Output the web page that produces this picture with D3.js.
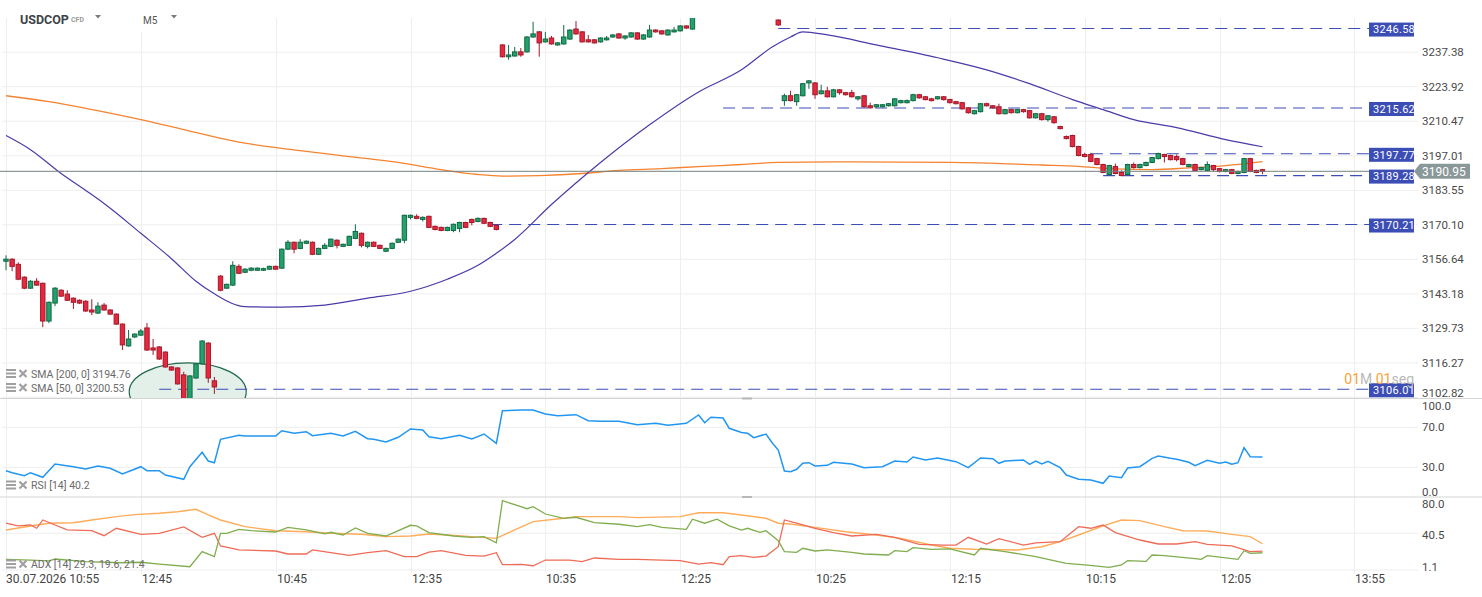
<!DOCTYPE html>
<html>
<head>
<meta charset="utf-8">
<script src="https://cdn.jsdelivr.net/npm/d3@7"></script>
<style>
  html, body { margin: 0; padding: 0; background: #fff; }
  svg { display: block; font-family: Roboto, "Noto Sans", sans-serif; }
</style>
</head>
<body>
<div id="main"></div>
<script>
// ---- data (M5 candles, index 0..205) ----
var opens = [
  3155.9,3156.7,3154.7,3149.7,3145.4,3148.1,3147.3,3132.6,3139.6,3144.6,
  3143.1,3141.5,3140.7,3140.3,3136.9,3135.7,3138.8,3136.9,3135.3,3131.4,
  3122.9,3126.4,3127.1,3129.9,3122.1,3122.5,3120.5,3114.7,3114.3,3111.6,
  3101.6,3110.4,3115.9,3124.0,3109.3,3150.1,3145.4,3146.6,3153.9,3151.6,
  3152.4,3152.4,3152.4,3152.8,3153.9,3153.2,3160.6,3163.3,3160.9,3162.9,
  3163.3,3158.6,3160.9,3161.7,3164.1,3161.7,3162.1,3164.8,3166.8,3161.7,
  3163.3,3162.1,3159.8,3160.9,3163.3,3164.1,3173.0,3173.4,3172.2,3173.4,
  3169.5,3169.1,3167.9,3167.9,3168.7,3171.0,3172.2,3171.4,3172.6,3171.0,
  3169.9,3240.2,3235.6,3235.9,3237.5,3237.5,3243.3,3245.3,3241.4,3242.9,
  3240.2,3240.6,3242.5,3246.4,3245.3,3242.2,3242.2,3241.4,3242.2,3243.3,
  3244.5,3242.9,3243.3,3244.9,3242.5,3243.3,3246.0,3245.7,3244.1,3245.3,
  3245.7,3247.6,3246.4,null,null,null,null,null,null,null,
  null,null,null,null,null,null,3249.9,3218.5,3220.4,3218.1,
  3220.4,3225.4,3225.4,3221.2,3222.3,3220.0,3222.7,3221.6,3221.6,3219.2,
  3220.4,3216.5,3216.1,3216.1,3216.5,3216.5,3217.7,3217.7,3218.5,3220.8,
  3220.0,3219.2,3219.2,3220.0,3218.9,3218.1,3217.7,3215.7,3213.4,3214.2,
  3217.3,3216.5,3216.1,3213.4,3215.0,3213.8,3215.0,3214.6,3211.8,3213.4,
  3211.1,3212.2,3208.4,3204.5,3204.9,3200.6,3197.5,3197.5,3195.9,3193.6,
  3189.7,3192.8,3190.5,3189.7,3193.6,3192.4,3193.2,3194.4,3195.9,3197.5,
  3197.1,3196.7,3195.9,3192.8,3193.6,3191.6,3191.3,3193.2,3192.0,3190.9,
  3191.6,3190.1,3190.5,3195.9,3191.3,3191.6
];
var highs = [
  3158.2,3157.0,3155.5,3150.0,3148.5,3149.3,3147.6,3140.2,3145.8,3145.0,
  3144.6,3141.8,3141.0,3140.7,3141.1,3139.9,3139.6,3137.2,3135.6,3131.7,
  3129.1,3127.8,3129.5,3131.8,3125.6,3122.8,3120.8,3115.0,3114.6,3112.8,
  3111.5,3116.2,3125.2,3124.3,3110.8,3150.5,3147.2,3155.9,3154.7,3153.2,
  3153.6,3153.5,3153.4,3154.2,3154.2,3160.9,3164.1,3163.6,3164.5,3164.0,
  3163.6,3161.2,3162.9,3164.8,3164.4,3162.8,3165.9,3170.3,3167.1,3163.6,
  3163.6,3162.4,3161.2,3163.2,3164.8,3174.1,3174.1,3174.2,3173.4,3173.7,
  3169.8,3169.4,3169.4,3170.6,3171.3,3171.3,3172.5,3173.0,3172.9,3171.3,
  3170.2,3240.5,3240.2,3239.4,3239.0,3243.6,3249.2,3245.6,3245.3,3243.7,
  3241.3,3248.0,3246.3,3249.5,3245.6,3244.1,3242.5,3243.2,3243.7,3244.4,
  3244.8,3244.0,3245.2,3245.2,3244.4,3248.0,3246.3,3246.0,3246.3,3247.2,
  3247.9,3247.9,3252.0,null,null,null,null,null,null,null,
  null,null,null,null,null,null,3250.2,3221.2,3222.3,3221.1,
  3225.4,3226.5,3225.7,3224.7,3223.9,3223.1,3223.0,3221.9,3222.7,3220.3,
  3220.7,3217.7,3217.2,3217.2,3217.6,3219.5,3218.8,3218.9,3221.2,3221.1,
  3220.3,3219.6,3220.3,3220.3,3219.2,3218.4,3218.0,3216.0,3214.9,3217.6,
  3217.7,3216.8,3217.3,3215.3,3215.3,3215.3,3215.3,3214.9,3213.7,3213.7,
  3212.9,3212.5,3208.7,3204.9,3205.2,3200.9,3198.2,3198.2,3196.2,3193.9,
  3193.5,3194.0,3191.3,3193.9,3194.4,3193.9,3194.7,3196.6,3198.2,3197.8,
  3197.4,3197.5,3196.2,3193.9,3193.9,3192.7,3194.8,3193.5,3192.3,3191.9,
  3191.9,3191.2,3196.2,3196.2,3191.6,3191.9
];
var lows = [
  3152.4,3152.0,3148.5,3145.0,3145.2,3146.3,3130.2,3131.8,3138.4,3142.0,
  3140.4,3137.3,3139.2,3136.2,3134.9,3135.3,3136.6,3135.0,3131.1,3121.3,
  3122.6,3126.0,3126.8,3121.0,3119.4,3117.4,3114.4,3113.2,3107.8,3100.8,
  3101.0,3110.1,3115.6,3108.5,3104.2,3144.2,3145.1,3146.3,3150.9,3151.3,
  3152.0,3152.1,3152.1,3152.6,3152.6,3152.9,3160.3,3159.0,3160.6,3162.6,
  3158.3,3158.3,3160.6,3161.4,3160.9,3161.4,3161.8,3164.5,3161.3,3160.9,
  3161.4,3160.6,3159.5,3160.6,3163.0,3162.9,3172.2,3172.3,3171.4,3168.8,
  3167.9,3167.6,3167.6,3167.2,3167.2,3168.8,3169.9,3171.1,3170.4,3169.2,
  3167.9,3235.3,3234.4,3235.6,3235.6,3237.2,3243.0,3235.6,3241.1,3240.3,
  3239.9,3240.3,3242.2,3244.2,3241.1,3241.1,3240.7,3241.1,3241.9,3243.0,
  3242.6,3242.2,3243.0,3242.2,3242.2,3243.0,3245.0,3244.2,3243.8,3245.0,
  3245.4,3246.4,3246.1,null,null,null,null,null,null,null,
  null,null,null,null,null,null,3247.6,3216.5,3218.2,3216.5,
  3220.1,3223.1,3219.2,3220.9,3219.7,3219.7,3220.8,3220.5,3219.7,3218.5,
  3215.8,3215.4,3215.7,3215.8,3216.2,3216.2,3217.4,3217.4,3218.2,3219.2,
  3218.6,3218.2,3218.9,3218.5,3217.4,3217.0,3215.0,3213.4,3213.1,3213.9,
  3216.2,3215.4,3213.1,3213.1,3213.5,3213.5,3213.8,3211.5,3211.5,3210.7,
  3210.3,3209.5,3207.3,3203.4,3200.3,3196.8,3196.4,3194.5,3193.3,3190.2,
  3189.4,3189.8,3189.0,3189.4,3192.0,3192.1,3192.9,3194.1,3195.6,3194.4,
  3195.2,3194.8,3193.3,3192.5,3191.0,3191.3,3191.0,3190.9,3190.5,3190.5,
  3189.8,3189.8,3190.2,3190.6,3190.2,3189.8
];
var closes = [
  3156.7,3153.9,3148.9,3145.4,3148.1,3146.6,3132.6,3139.9,3145.4,3142.3,
  3140.7,3139.9,3139.6,3136.5,3136.1,3138.4,3136.9,3135.3,3131.4,3123.3,
  3125.6,3127.5,3128.7,3121.3,3121.3,3117.8,3114.7,3113.5,3108.1,3101.8,
  3111.2,3115.9,3124.8,3110.4,3106.9,3144.6,3146.9,3154.3,3151.2,3152.8,
  3153.2,3153.2,3153.0,3153.9,3152.8,3160.6,3163.3,3160.6,3163.3,3163.7,
  3158.6,3160.9,3162.1,3164.5,3162.1,3162.5,3165.6,3167.5,3162.1,3163.3,
  3161.7,3160.9,3160.9,3162.9,3164.5,3173.8,3173.8,3172.6,3173.0,3169.1,
  3168.3,3167.9,3169.1,3170.3,3171.0,3169.1,3171.0,3172.6,3170.7,3169.5,
  3168.3,3235.6,3236.3,3237.5,3236.3,3243.3,3244.5,3241.0,3242.5,3240.6,
  3241.0,3243.3,3246.0,3244.5,3241.4,3241.4,3241.0,3242.9,3242.9,3244.1,
  3242.9,3243.7,3244.9,3242.5,3244.1,3246.0,3245.3,3244.5,3246.0,3246.0,
  3247.6,3246.8,3251.5,null,null,null,null,null,null,null,
  null,null,null,null,null,null,3248.0,3220.4,3218.5,3220.8,
  3225.1,3226.2,3220.8,3222.3,3220.0,3222.7,3221.6,3220.8,3220.0,3220.0,
  3216.1,3215.7,3216.9,3216.9,3217.3,3219.2,3218.5,3218.5,3220.8,3219.6,
  3218.9,3218.5,3220.0,3218.9,3217.7,3217.3,3215.3,3213.8,3214.6,3217.3,
  3216.5,3215.7,3213.4,3215.0,3213.8,3215.0,3214.2,3211.8,3213.4,3211.1,
  3212.6,3209.9,3207.6,3203.7,3200.6,3197.1,3196.7,3194.8,3193.6,3190.5,
  3193.2,3190.1,3189.3,3193.6,3192.4,3193.6,3194.4,3196.3,3197.9,3196.7,
  3195.5,3195.5,3193.6,3193.6,3191.3,3192.4,3193.6,3191.6,3190.9,3191.6,
  3190.1,3190.9,3195.9,3190.9,3190.5,3190.95
];

// moving averages, read at a handful of candles
var sma200Idx = [0,7,13,22,29,38,48,56,64,71,77,81,87,94,100,107,113,120,126,138,154,169,175,180,187,193,199,205];
var sma200Val = [3220.4,3218.1,3215.5,3211.1,3207.2,3202.3,3199.0,3196.7,3194.4,3191.6,3189.7,3189.1,3189.3,3190.1,3191.3,3192.0,3192.8,3193.6,3194.4,3194.6,3194.4,3193.4,3192.9,3192.0,3191.6,3192.3,3193.2,3194.76];
var sma50Idx = [0,4,9,13,16,22,27,31,34,39,45,52,59,66,72,77,80,83,89,97,105,113,120,125,128,130,134,142,152,160,167,174,179,184,191,199,205];
var sma50Val = [3204.9,3199.4,3190.1,3183.5,3178.4,3166.8,3156.9,3148.1,3143.2,3138.2,3138.0,3138.8,3141.5,3144.2,3148.9,3154.3,3159.0,3164.4,3178.0,3194.4,3209.1,3221.9,3230.5,3239.4,3243.3,3245.3,3244.1,3240.2,3235.2,3230.5,3225.1,3218.9,3215.0,3211.1,3208.0,3203.3,3200.53];

// RSI [14]
var rsiIdx = [0,1,3,4,6,8,11,13,15,17,19,22,23,25,26,29,30,32,33,34,35,38,39,44,45,47,49,50,53,55,57,59,60,62,64,66,68,69,71,74,76,78,80,81,84,86,88,90,93,95,97,100,103,106,108,111,113,114,115,117,118,120,121,122,124,125,126,127,128,129,130,131,132,134,135,138,140,143,145,147,148,150,152,155,157,159,161,162,163,166,167,168,169,170,172,173,175,177,179,180,182,183,185,187,188,190,191,193,194,196,198,199,200,201,202,203,205];
var rsiVal = [26.6,24.6,21.6,24.6,20,33.3,30.6,28.3,31.3,29,23.3,30.6,26.6,26.6,22.3,18,30.6,45,36.3,34.6,58,62,61.3,61.3,66.6,64,65.6,61.6,64,61.3,66,58.6,58,55.3,60,68.3,67.3,60.6,58.6,62,58.3,63.3,54,86.6,87.3,87.3,83.3,81.6,82.6,76.6,76,76,72.6,74,72,74,82.3,74.6,80,79.3,69,64.8,64,59.6,63.3,54.6,47.3,26.3,25.6,28,34,34.6,31.3,32,35,33.3,29.6,30.6,36.3,35.3,40.3,37.3,39.3,35.6,29.6,39.3,38.6,34,36.3,37.3,33,36.3,33.3,36,29.6,22.3,18,17.3,14,21.3,19.6,29.3,30.6,39,41.3,39,38,35,31.6,37,34,35.3,33,34.6,49.6,40.6,40.2];

// ADX [14]: adx, +DI, -DI
var adxIdx = [0,4,7,11,14,18,21,25,28,31,33,35,39,44,49,53,58,62,66,69,72,76,80,83,86,91,93,100,103,110,113,117,120,124,126,128,132,137,142,146,151,154,158,165,169,172,175,179,182,185,189,192,196,200,203,205];
var adxVal = [44.1,48.4,51.3,51.9,54.8,58.4,60.5,62,63.7,66.3,60.2,54.8,47.6,43.3,42.2,40.5,39.4,36.9,37.6,39.8,38.7,36.9,35.1,44.1,53,56.6,58.4,58.4,57.3,58.4,62.6,62.6,60.2,56.6,51.3,50.5,46.9,42.2,38.7,35.1,27.9,24.4,23.3,22.6,26.1,31.5,38.7,48.4,54.8,54.1,47.6,43.3,43,39.4,37,29.3];
var plusDiIdx = [0,4,7,8,13,19,22,25,30,32,34,35,36,38,40,44,46,49,52,53,55,57,59,62,66,67,69,73,76,78,80,81,84,85,86,88,91,93,96,100,103,105,107,111,112,114,116,118,120,121,123,124,126,127,129,130,132,134,138,140,144,145,147,148,151,154,158,159,163,168,173,176,180,182,183,186,187,189,194,195,196,201,202,203,205];
var plusDiVal = [12.6,11.8,10.8,12.9,10,8.9,9.4,7.5,4.6,20.8,15.4,40.5,40.5,44.8,43.3,41.9,46.9,44.1,39.8,41.6,38.7,46.2,40.5,37.6,49.1,48.4,41.2,37.6,36.2,36.9,30.3,75.5,69.1,66.9,69.1,61.2,56.6,57.7,51.9,50.2,47.6,49.8,46.9,44.8,55.6,51.3,55.6,48.4,44,45.9,41.6,43.3,32.6,20.8,20.1,24.4,21.5,22.6,20.1,18.3,17.2,21.8,20.8,25.1,23.3,23.7,17.2,24.4,20.8,15.4,8.3,6.5,4,6.5,11.1,10.4,17.2,16.5,13.2,12.6,16.5,12.6,21.8,19,19.6];
var minusDiIdx = [0,2,4,5,6,8,10,14,16,18,22,25,29,32,34,35,38,44,46,49,50,53,56,59,62,65,67,69,71,75,78,80,81,84,86,88,92,94,96,100,103,107,110,113,115,117,118,120,122,124,126,127,129,132,135,138,142,145,149,153,155,157,160,162,166,168,172,175,177,179,181,185,188,191,194,196,200,203,205];
var minusDiVal = [51.3,48.4,49.4,45.9,54.8,49.4,44.1,43.3,37.9,45.9,39.4,40.5,47.3,36.2,40.5,26.9,22.6,21.5,18.3,18.3,22.6,19.7,16.9,19.7,21.8,15.4,15.4,20.4,21.8,16.9,16.1,19.7,6.8,7.2,5.7,11.8,11.8,10,14,12.6,12.6,11.8,11.1,7.5,9,6.8,15.4,16.5,14.7,16.1,26.1,54.8,51.3,45.9,41.2,37.6,39.4,36.2,28.7,27.9,27.9,36.2,29,34.8,27.9,30.3,31.5,47.6,45.9,49.4,41.2,33.3,29,29,31.5,28.7,26.9,20.8,21.4];

// axis ticks and labels
var xTickIdx = [0,22,44,66,88,110,132,154,176,198,220];
var xTickLabels = ["30.07.2026 10:55","12:45","10:45","12:35","10:35","12:25","10:25","12:15","10:15","12:05","13:55"];
var mainTicks = [3237.38,3223.92,3210.47,3197.01,3183.55,3170.10,3156.64,3143.18,3129.73,3116.27,3102.82];
var rsiTicks = [100, 70, 30, 0];
var adxTicks = [80.0, 40.5, 1.1];

// drawn levels and the marked zone
var levelPrices = [3246.58, 3215.62, 3197.77, 3189.28, 3170.21, 3106.01];
var levelStart = [126, 117, 177, 179, 79, 25];
var lastPrice = 3190.95;
var zoneIdx = [20.1, 39.2];
var zonePrice = [3116.3, 3093.7];

var legendMain = ["SMA [200, 0] 3194.76", "SMA [50, 0] 3200.53"];
var legendRsi = "RSI [14] 40.2";
var legendAdx = "ADX [14] 29.3, 19.6, 21.4";

// ---- layout ----
var W = 1482, H = 597;
var plotR = 1418;
var mainTop = 18, mainBot = 398, rsiTop = 398, rsiBot = 497, adxTop = 497, adxBot = 572;

var svg = d3.select("#main").append("svg")
  .attr("width", W)
  .attr("height", H);

var x = d3.scaleLinear().domain([0, 220]).range([6, 1354.4]);
var yMain = d3.scaleLinear().domain([3102.6, 3250.7]).range([mainBot, mainTop]);
var yRsi = d3.scaleLinear().domain([0, 100]).range([497.3, 397.3]);
var yAdx = d3.scaleLinear().domain([1.1, 80]).range([570, 496.5]);

var defs = svg.append("defs");
function clip(id, y0, y1) {
  defs.append("clipPath").attr("id", id)
    .append("rect").attr("x", 0).attr("y", y0).attr("width", plotR).attr("height", y1 - y0);
}
clip("cMain", mainTop, mainBot);
clip("cRsi", rsiTop, rsiBot);
clip("cAdx", adxTop, adxBot);

var grid = svg.append("g").attr("stroke", "#eeeeee").attr("stroke-width", 1);

grid.selectAll(".vg").data(xTickIdx).enter().append("line")
  .attr("x1", function(d) { return Math.round(x(d)) + 0.5; })
  .attr("x2", function(d) { return Math.round(x(d)) + 0.5; })
  .attr("y1", mainTop).attr("y2", 573);

grid.selectAll(".hm").data(mainTicks).enter().append("line")
  .attr("x1", 2).attr("x2", plotR)
  .attr("y1", function(d) { return yMain(d); })
  .attr("y2", function(d) { return yMain(d); });

grid.selectAll(".hr").data([70, 30]).enter().append("line")
  .attr("x1", 2).attr("x2", plotR)
  .attr("y1", function(d) { return yRsi(d); })
  .attr("y2", function(d) { return yRsi(d); });

grid.selectAll(".ha").data([40.5, 1.1]).enter().append("line")
  .attr("x1", 2).attr("x2", plotR)
  .attr("y1", function(d) { return yAdx(d); })
  .attr("y2", function(d) { return yAdx(d); });

// panel separators
svg.selectAll(".sep").data([398.5, 497]).enter().append("line")
  .attr("x1", 0).attr("x2", W)
  .attr("y1", function(d) { return d; }).attr("y2", function(d) { return d; })
  .attr("stroke", "#d4d4d4");
svg.selectAll(".handle").data([397.5, 496]).enter().append("rect")
  .attr("x", 742).attr("y", function(d) { return d; })
  .attr("width", 10).attr("height", 2).attr("fill", "#b8b8b8");

// ---- main panel ----
var gMain = svg.append("g").attr("clip-path", "url(#cMain)");

gMain.append("ellipse")
  .attr("cx", (x(zoneIdx[0]) + x(zoneIdx[1])) / 2)
  .attr("cy", (yMain(zonePrice[0]) + yMain(zonePrice[1])) / 2)
  .attr("rx", (x(zoneIdx[1]) - x(zoneIdx[0])) / 2)
  .attr("ry", (yMain(zonePrice[1]) - yMain(zonePrice[0])) / 2)
  .attr("fill", "#e3efe9")
  .attr("stroke", "#1f6b4a")
  .attr("stroke-width", 1.2);

var smaLine = d3.line()
  .x(function(d) { return x(d[0]); })
  .y(function(d) { return yMain(d[1]); })
  .curve(d3.curveMonotoneX);

gMain.append("path")
  .attr("d", smaLine(d3.zip(sma200Idx, sma200Val)))
  .attr("fill", "none").attr("stroke", "#f5832f").attr("stroke-width", 1.3);

gMain.append("path")
  .attr("d", smaLine(d3.zip(sma50Idx, sma50Val)))
  .attr("fill", "none").attr("stroke", "#4b3aa8").attr("stroke-width", 1.2);

// levels
gMain.selectAll(".lvl").data(levelPrices).enter().append("line")
  .attr("x1", function(d, i) { return x(levelStart[i]); })
  .attr("x2", 1369)
  .attr("y1", function(d) { return yMain(d); })
  .attr("y2", function(d) { return yMain(d); })
  .attr("stroke", "#3c4db5")
  .attr("stroke-width", 1.1)
  .attr("stroke-dasharray", "12,7");

// candles
var candles = d3.range(opens.length).filter(function(i) { return opens[i] != null; });
var up = function(i) { return closes[i] >= opens[i]; };

gMain.selectAll(".wick").data(candles).enter().append("line")
  .attr("x1", function(i) { return x(i); })
  .attr("x2", function(i) { return x(i); })
  .attr("y1", function(i) { return yMain(highs[i]); })
  .attr("y2", function(i) { return yMain(lows[i]); })
  .attr("stroke", function(i) { return up(i) ? "#0f6a44" : "#a3192b"; })
  .attr("stroke-width", 1);

gMain.selectAll(".body").data(candles).enter().append("rect")
  .attr("x", function(i) { return x(i) - 2.2; })
  .attr("width", 4.4)
  .attr("y", function(i) { return yMain(Math.max(opens[i], closes[i])); })
  .attr("height", function(i) { return Math.max(1, Math.abs(yMain(opens[i]) - yMain(closes[i]))); })
  .attr("fill", function(i) { return up(i) ? "#23a06b" : "#e6283e"; })
  .attr("stroke", function(i) { return up(i) ? "#0f6a44" : "#a3192b"; })
  .attr("stroke-width", 1);

// last price line
svg.append("line")
  .attr("x1", 0).attr("x2", 1414)
  .attr("y1", yMain(lastPrice)).attr("y2", yMain(lastPrice))
  .attr("stroke", "#72807f").attr("stroke-width", 1);

// level boxes on the right
defs.append("clipPath").attr("id", "cLbl")
  .append("rect").attr("x", 1369).attr("y", 0).attr("width", 45).attr("height", 400);
var lb = svg.append("g");
lb.selectAll("rect").data(levelPrices).enter().append("rect")
  .attr("x", 1369).attr("width", 45)
  .attr("y", function(d) { return yMain(d) - 6; })
  .attr("height", 14)
  .attr("fill", "#3c4db5");
lb.append("g").attr("clip-path", "url(#cLbl)")
  .selectAll("text").data(levelPrices).enter().append("text")
  .attr("x", 1373)
  .attr("y", function(d) { return yMain(d) + 1; })
  .attr("dy", "0.35em")
  .attr("fill", "#fff")
  .attr("font-size", 11)
  .attr("letter-spacing", 0.3)
  .text(function(d) { return d.toFixed(2); });

// ---- RSI panel ----
var gRsi = svg.append("g").attr("clip-path", "url(#cRsi)");
var rsiLine = d3.line()
  .x(function(d) { return x(d[0]); })
  .y(function(d) { return yRsi(d[1]); });
gRsi.append("path")
  .attr("d", rsiLine(d3.zip(rsiIdx, rsiVal)))
  .attr("fill", "none").attr("stroke", "#2196f3").attr("stroke-width", 1.5);

// ---- ADX panel ----
var gAdx = svg.append("g").attr("clip-path", "url(#cAdx)");
var adxLine = d3.line()
  .x(function(d) { return x(d[0]); })
  .y(function(d) { return yAdx(d[1]); });
gAdx.append("path")
  .attr("d", adxLine(d3.zip(adxIdx, adxVal)))
  .attr("fill", "none").attr("stroke", "#ffac5a").attr("stroke-width", 1.4);
gAdx.append("path")
  .attr("d", adxLine(d3.zip(minusDiIdx, minusDiVal)))
  .attr("fill", "none").attr("stroke", "#ef6b57").attr("stroke-width", 1.3);
gAdx.append("path")
  .attr("d", adxLine(d3.zip(plusDiIdx, plusDiVal)))
  .attr("fill", "none").attr("stroke", "#80ad4e").attr("stroke-width", 1.3);

// ---- axis labels ----
var axisG = svg.append("g").attr("font-size", 11.5).attr("fill", "#4a4a4a");
axisG.selectAll(".tm").data(mainTicks).enter().append("text")
  .attr("x", 1422)
  .attr("y", function(d) { return Math.min(yMain(d), mainBot - 5); })
  .attr("dy", "0.35em")
  .text(function(d) { return d.toFixed(2); });
axisG.selectAll(".tr").data(rsiTicks).enter().append("text")
  .attr("x", 1422)
  .attr("y", function(d) { return Math.max(rsiTop + 8, Math.min(yRsi(d), rsiBot - 5.5)); })
  .attr("dy", "0.35em")
  .text(function(d) { return d.toFixed(1); });
axisG.selectAll(".ta").data(adxTicks).enter().append("text")
  .attr("x", 1422)
  .attr("y", function(d) { return Math.max(adxTop + 6.5, Math.min(yAdx(d) + 1.5, adxBot - 5)); })
  .attr("dy", "0.35em")
  .text(function(d) { return d.toFixed(1); });

svg.append("g").attr("font-size", 12).attr("fill", "#444")
  .selectAll("text").data(xTickIdx).enter().append("text")
  .attr("x", function(d, i) { return i === 0 ? 6 : Math.round(x(d)) + 1; })
  .attr("y", 579)
  .attr("dy", "0.35em")
  .text(function(d, i) { return xTickLabels[i]; });

// current price tag
var py = yMain(lastPrice);
svg.append("path")
  .attr("d", "M1414," + py + " L1420," + (py - 7.5) + " H1470 V" + (py + 7.5) + " H1420 Z")
  .attr("fill", "#8b9899");
svg.append("text")
  .attr("x", 1422).attr("y", py).attr("dy", "0.36em")
  .attr("font-size", 12).attr("fill", "#fff")
  .text(lastPrice.toFixed(2));

// countdown
var cd = svg.append("text")
  .attr("x", 1414).attr("y", 384)
  .attr("text-anchor", "end")
  .attr("font-size", 14);
cd.append("tspan").attr("fill", "#f7a23b").text("01");
cd.append("tspan").attr("fill", "#b9b9b9").text("M ");
cd.append("tspan").attr("fill", "#f7a23b").text("01");
cd.append("tspan").attr("fill", "#b9b9b9").text("seg");

// ---- legends ----
function legendIcon(yc) {
  var g = svg.append("g").attr("fill", "#a0a0a0");
  [-3.5, 0, 3.5].forEach(function(o) {
    g.append("rect").attr("x", 6).attr("y", yc + o - 1).attr("width", 10).attr("height", 2);
  });
  g.append("path")
    .attr("d", "M19.5," + (yc - 3.5) + " L26.5," + (yc + 3.5) + " M26.5," + (yc - 3.5) + " L19.5," + (yc + 3.5))
    .attr("stroke", "#a0a0a0").attr("stroke-width", 2.2);
}
function legendText(t, yb) {
  svg.append("text").attr("x", 31).attr("y", yb)
    .attr("font-size", 10.5).attr("fill", "#6a6a6a").text(t);
}
legendIcon(373.5); legendText(legendMain[0], 377.5);
legendIcon(387.5); legendText(legendMain[1], 391.5);
legendIcon(485);   legendText(legendRsi, 489);
legendIcon(564);   legendText(legendAdx, 568);

// ---- header ----
svg.append("rect").attr("x", 128).attr("y", 0).attr("width", 60).attr("height", 32).attr("fill", "#fff");
svg.append("text").attr("x", 20).attr("y", 23.5)
  .attr("font-size", 12.5).attr("font-weight", 700).attr("fill", "#3c4247").text("USDCOP");
svg.append("text").attr("x", 71).attr("y", 21.5)
  .attr("font-size", 7).attr("font-weight", 700).attr("fill", "#9a9a9a").text("CFD");
svg.append("text").attr("x", 143).attr("y", 24)
  .attr("font-size", 10).attr("fill", "#555").text("M5");
[[95, 15], [171, 15]].forEach(function(p) {
  svg.append("path")
    .attr("d", "M" + p[0] + "," + p[1] + " h6 l-3,3.5 Z")
    .attr("fill", "#7a7a7a");
});
</script>
</body>
</html>
